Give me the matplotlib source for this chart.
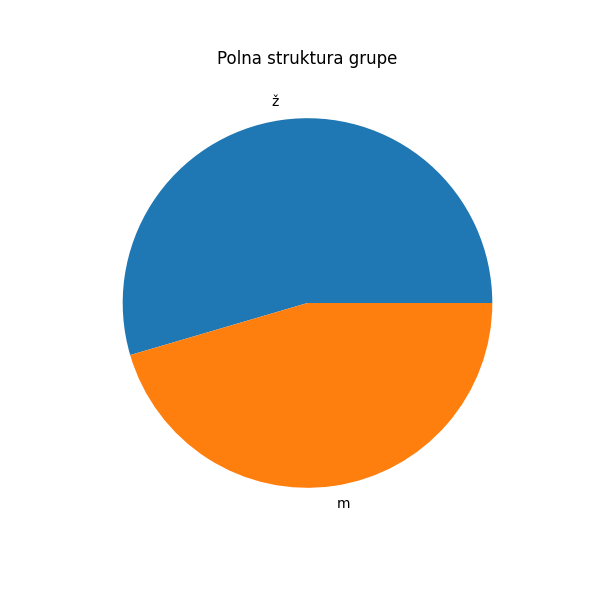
import matplotlib
matplotlib.use('Agg')
import matplotlib.pyplot as plt

labels = ['ž', 'm']
counts = [6, 5]

fig = plt.figure(figsize=(6, 6), dpi=100)
plt.pie(counts, labels=labels)
plt.title('Polna struktura grupe')
plt.savefig('out.png')
